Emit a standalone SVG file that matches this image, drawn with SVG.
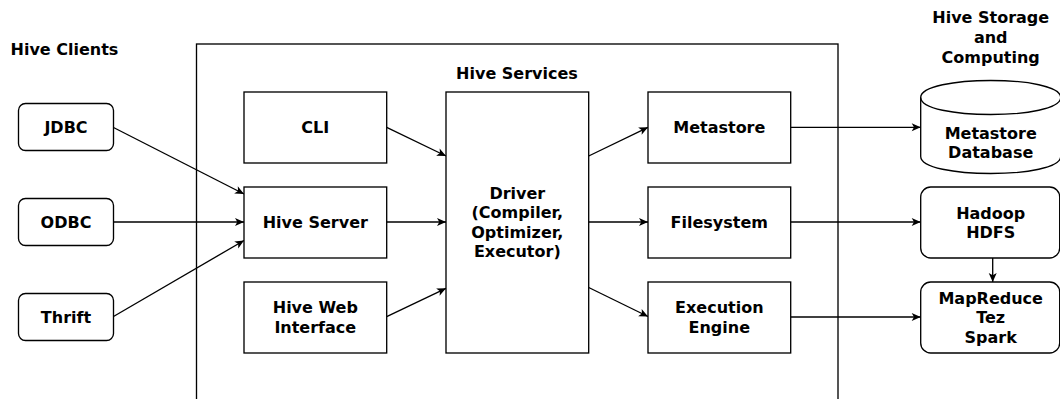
<svg xmlns="http://www.w3.org/2000/svg" width="1060" height="399" viewBox="0 0 1060 399">
  <style>
    .box { fill: #ffffff; stroke: #000000; stroke-width: 1.33; }
    .frame { fill: none; stroke: #000000; stroke-width: 1.33; }
    .lbl { font-family: "DejaVu Sans", Verdana, sans-serif; font-weight: bold; font-size: 16px; fill: #000000; text-anchor: middle; }
    .title { font-family: "DejaVu Sans", Verdana, sans-serif; font-weight: bold; font-size: 16px; fill: #000000; }
    .edge { fill: none; stroke: #000000; stroke-width: 1.33; marker-end: url(#arrow); }
  </style>
  <defs>
    <marker id="arrow" markerUnits="userSpaceOnUse" markerWidth="10" markerHeight="9" refX="9" refY="4" orient="auto" overflow="visible">
      <path d="M0,0 L9,4 L0,8 L2.3,4 Z" fill="#000000" stroke="none"/>
    </marker>
  </defs>

  <rect width="1060" height="399" fill="#ffffff"/>

  <!-- section titles -->
  <text class="title" x="10.5" y="55">Hive Clients</text>

  <!-- Hive Services container -->
  <g id="hive-services">
    <rect class="frame" x="196.5" y="44" width="641.5" height="380"/>
    <text class="lbl" x="517" y="78.5">Hive Services</text>
  </g>

  <g id="storage-title">
    <text class="lbl" x="990.7" y="22.7">Hive Storage</text>
    <text class="lbl" x="990.7" y="42.7">and</text>
    <text class="lbl" x="990.7" y="62.7">Computing</text>
  </g>

  <!-- connectors -->
  <g id="connectors">
    <path class="edge" d="M113.5,127.5 L244,194"/>
    <path class="edge" d="M113.5,222 L244,222"/>
    <path class="edge" d="M113.5,316.5 L244,240.5"/>
    <path class="edge" d="M386.7,127.3 L446,156"/>
    <path class="edge" d="M386.7,222 L446,222"/>
    <path class="edge" d="M386.7,316.7 L446,288.3"/>
    <path class="edge" d="M588.7,156 L648,127.3"/>
    <path class="edge" d="M588.7,222 L648,222"/>
    <path class="edge" d="M588.7,287.5 L648,316.5"/>
    <path class="edge" d="M790.7,127.3 L920.7,127.3"/>
    <path class="edge" d="M790.7,222 L920.7,222"/>
    <path class="edge" d="M790.7,317 L920.7,317"/>
    <path class="edge" d="M992.7,258 L992.7,282"/>
  </g>

  <!-- clients -->
  <g id="jdbc">
    <rect class="box" x="18.5" y="103.5" width="95" height="47" rx="7"/>
    <text class="lbl" x="66" y="133.3">JDBC</text>
  </g>
  <g id="odbc">
    <rect class="box" x="18.5" y="198.5" width="95" height="47" rx="7"/>
    <text class="lbl" x="66" y="228">ODBC</text>
  </g>
  <g id="thrift">
    <rect class="box" x="18.5" y="293.5" width="95" height="47" rx="7"/>
    <text class="lbl" x="66" y="323">Thrift</text>
  </g>

  <!-- services -->
  <g id="cli">
    <rect class="box" x="244" y="92" width="142.7" height="71"/>
    <text class="lbl" x="315.3" y="133.4">CLI</text>
  </g>
  <g id="hive-server">
    <rect class="box" x="244" y="187" width="142.7" height="71"/>
    <text class="lbl" x="315.3" y="228.3">Hive Server</text>
  </g>
  <g id="hive-web-interface">
    <rect class="box" x="244" y="282" width="142.7" height="71"/>
    <text class="lbl" x="315.3" y="312.7">Hive Web</text>
    <text class="lbl" x="315.3" y="332.7">Interface</text>
  </g>
  <g id="driver">
    <rect class="box" x="446" y="92" width="142.7" height="261"/>
    <text class="lbl" x="517.3" y="198.5">Driver</text>
    <text class="lbl" x="517.3" y="218">(Compiler,</text>
    <text class="lbl" x="517.3" y="237.5">Optimizer,</text>
    <text class="lbl" x="517.3" y="256.7">Executor)</text>
  </g>
  <g id="metastore">
    <rect class="box" x="648" y="92" width="142.7" height="71"/>
    <text class="lbl" x="719.3" y="133.4">Metastore</text>
  </g>
  <g id="filesystem">
    <rect class="box" x="648" y="187" width="142.7" height="71"/>
    <text class="lbl" x="719.3" y="228.3">Filesystem</text>
  </g>
  <g id="execution-engine">
    <rect class="box" x="648" y="282" width="142.7" height="71"/>
    <text class="lbl" x="719.3" y="312.7">Execution</text>
    <text class="lbl" x="719.3" y="332.7">Engine</text>
  </g>

  <!-- storage and computing -->
  <g id="metastore-database">
    <path class="box" d="M920.7,97.5 C920.7,74.8 1060.7,74.8 1060.7,97.5 L1060.7,156.5 C1060.7,179.2 920.7,179.2 920.7,156.5 Z"/>
    <path class="frame" d="M920.7,97.5 C920.7,120.2 1060.7,120.2 1060.7,97.5"/>
    <text class="lbl" x="990.7" y="138.5">Metastore</text>
    <text class="lbl" x="990.7" y="158.3">Database</text>
  </g>
  <g id="hadoop-hdfs">
    <rect class="box" x="920.7" y="187" width="139" height="71" rx="10"/>
    <text class="lbl" x="990.7" y="218.5">Hadoop</text>
    <text class="lbl" x="990.7" y="237.8">HDFS</text>
  </g>
  <g id="compute-engines">
    <rect class="box" x="920.7" y="282" width="139" height="71" rx="10"/>
    <text class="lbl" x="990.7" y="303.5">MapReduce</text>
    <text class="lbl" x="990.7" y="323">Tez</text>
    <text class="lbl" x="990.7" y="342.7">Spark</text>
  </g>
</svg>
